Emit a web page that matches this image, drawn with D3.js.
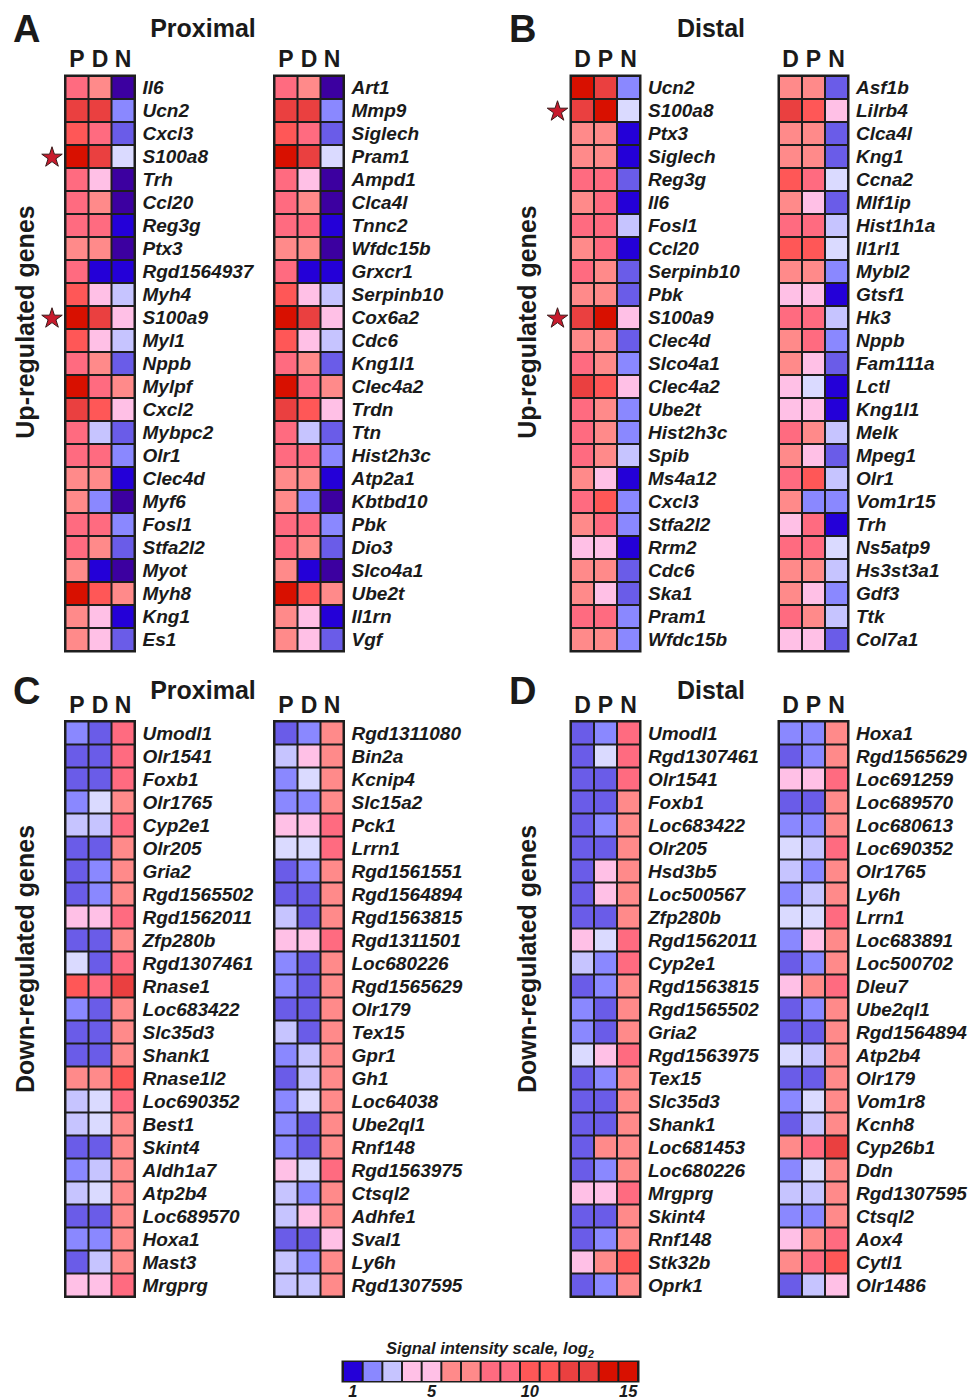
<!DOCTYPE html>
<html>
<head>
<meta charset="utf-8">
<script src="https://cdn.jsdelivr.net/npm/d3@7"></script>
<style>
  body { margin: 0; background: #fff; }
  text { font-family: "Liberation Sans", Arial, sans-serif; fill: #1a1a1a; }
</style>
</head>
<body>
<div id="chart"></div>
<script>
// column orders
const colsProximal = ["P", "D", "N"];
const colsDistal = ["D", "P", "N"];

// up-regulated, proximal
const genesA1 = ["Il6","Ucn2","Cxcl3","S100a8","Trh","Ccl20","Reg3g","Ptx3","Rgd1564937","Myh4","S100a9","Myl1","Nppb","Mylpf","Cxcl2","Mybpc2","Olr1","Clec4d","Myf6","Fosl1","Stfa2l2","Myot","Myh8","Kng1","Es1"];
const valuesA1 = [[9,7,0.5],[13,13,2.5],[11,9,1.7],[15,13,3.7],[9,5,0.5],[9,7,0.5],[9,9,1],[7,7,0.5],[9,1,1],[11,5,3.2],[15,13,5],[11,5,3.2],[9,7,1.7],[15,9,7],[13,11,5],[9,3.2,1.7],[9,9,2.5],[7,7,1],[7,2.5,0.5],[9,9,2.5],[9,7,1.7],[7,1,0.5],[15,11,7],[7,5,1],[7,5,1.7]];
const genesA2 = ["Art1","Mmp9","Siglech","Pram1","Ampd1","Clca4l","Tnnc2","Wfdc15b","Grxcr1","Serpinb10","Cox6a2","Cdc6","Kng1l1","Clec4a2","Trdn","Ttn","Hist2h3c","Atp2a1","Kbtbd10","Pbk","Dio3","Slco4a1","Ube2t","Il1rn","Vgf"];
const valuesA2 = [[9,7,0.5],[13,13,2.5],[11,9,1.7],[15,13,3.7],[9,5,0.5],[9,7,0.5],[9,9,1],[7,7,0.5],[9,1,1],[11,5,3.2],[15,13,5],[11,5,3.2],[9,7,1.7],[15,9,7],[13,11,5],[9,3.2,1.7],[9,9,2.5],[7,7,1],[7,2.5,0.5],[9,9,2.5],[9,7,1.7],[7,1,0.5],[15,11,7],[7,5,1],[7,5,1.7]];

// up-regulated, distal
const genesB1 = ["Ucn2","S100a8","Ptx3","Siglech","Reg3g","Il6","Fosl1","Ccl20","Serpinb10","Pbk","S100a9","Clec4d","Slco4a1","Clec4a2","Ube2t","Hist2h3c","Spib","Ms4a12","Cxcl3","Stfa2l2","Rrm2","Cdc6","Ska1","Pram1","Wfdc15b"];
const valuesB1 = [[15,13,2.5],[13,15,3.7],[7,7,1],[7,7,1],[9,9,1.7],[7,9,1],[9,9,3.2],[7,9,1],[9,7,1.7],[7,7,1.7],[13,15,5],[7,7,1.7],[9,7,2.5],[13,11,5],[9,7,2.5],[9,7,2.5],[9,7,3.2],[7,5,1],[9,11,2.5],[7,9,2.5],[5,5,1],[7,7,1.7],[7,5,1.7],[9,9,2.5],[7,7,2.5]];
const genesB2 = ["Asf1b","Lilrb4","Clca4l","Kng1","Ccna2","Mlf1ip","Hist1h1a","Il1rl1","Mybl2","Gtsf1","Hk3","Nppb","Fam111a","Lctl","Kng1l1","Melk","Mpeg1","Olr1","Vom1r15","Trh","Ns5atp9","Hs3st3a1","Gdf3","Ttk","Col7a1"];
const valuesB2 = [[7,7,1.7],[13,11,5],[7,7,1.7],[7,7,1.7],[11,9,3.7],[7,5,1.7],[9,9,3.2],[11,11,3.7],[7,7,2.5],[5,5,1],[9,9,3.2],[7,9,2.5],[7,5,1.7],[5,3.7,1],[5,5,1],[9,7,3.2],[7,5,1.7],[9,11,3.2],[7,2.5,2.5],[5,9,1],[9,9,3.7],[7,7,3.2],[7,5,2.5],[9,7,3.2],[5,5,1.7]];

// down-regulated, proximal
const genesC1 = ["Umodl1","Olr1541","Foxb1","Olr1765","Cyp2e1","Olr205","Gria2","Rgd1565502","Rgd1562011","Zfp280b","Rgd1307461","Rnase1","Loc683422","Slc35d3","Shank1","Rnase1l2","Loc690352","Best1","Skint4","Aldh1a7","Atp2b4","Loc689570","Hoxa1","Mast3","Mrgprg"];
const valuesC1 = [[2.5,1.7,9],[1.7,1.7,9],[1.7,1.7,9],[2.5,3.7,7],[3.2,3.2,9],[1.7,1.7,7],[1.7,2.5,7],[1.7,2.5,7],[5,5,9],[1.7,1.7,7],[3.7,1.7,9],[11,9,13],[2.5,1.7,7],[1.7,1.7,7],[1.7,1.7,7],[7,7,11],[3.2,3.7,9],[3.2,3.7,7],[1.7,1.7,7],[2.5,3.2,7],[3.2,3.7,7],[1.7,1.7,7],[2.5,2.5,7],[1.7,3.2,7],[5,5,9]];
const genesC2 = ["Rgd1311080","Bin2a","Kcnip4","Slc15a2","Pck1","Lrrn1","Rgd1561551","Rgd1564894","Rgd1563815","Rgd1311501","Loc680226","Rgd1565629","Olr179","Tex15","Gpr1","Gh1","Loc64038","Ube2ql1","Rnf148","Rgd1563975","Ctsql2","Adhfe1","Sval1","Ly6h","Rgd1307595"];
const valuesC2 = [[1.7,2.5,7],[3.2,5,7],[2.5,3.7,7],[2.5,2.5,7],[5,5,9],[3.7,3.7,9],[1.7,2.5,7],[1.7,1.7,7],[3.2,1.7,7],[5,5,9],[2.5,1.7,7],[2.5,1.7,7],[1.7,1.7,7],[3.2,1.7,7],[2.5,3.2,7],[1.7,3.2,7],[2.5,3.7,7],[2.5,1.7,7],[2.5,1.7,7],[5,3.7,9],[3.2,2.5,7],[3.2,5,7],[1.7,1.7,5],[3.2,2.5,7],[3.2,3.2,7]];

// down-regulated, distal
const genesD1 = ["Umodl1","Rgd1307461","Olr1541","Foxb1","Loc683422","Olr205","Hsd3b5","Loc500567","Zfp280b","Rgd1562011","Cyp2e1","Rgd1563815","Rgd1565502","Gria2","Rgd1563975","Tex15","Slc35d3","Shank1","Loc681453","Loc680226","Mrgprg","Skint4","Rnf148","Stk32b","Oprk1"];
const valuesD1 = [[1.7,2.5,9],[1.7,3.7,9],[1.7,1.7,9],[1.7,1.7,7],[1.7,2.5,7],[1.7,1.7,7],[1.7,5,7],[1.7,5,7],[1.7,1.7,7],[5,3.7,9],[3.2,2.5,9],[1.7,2.5,7],[2.5,1.7,7],[2.5,1.7,7],[3.7,5,9],[1.7,2.5,7],[1.7,1.7,7],[1.7,1.7,7],[1.7,7,7],[1.7,2.5,7],[5,5,9],[1.7,1.7,7],[1.7,2.5,7],[5,7,11],[1.7,2.5,7]];
const genesD2 = ["Hoxa1","Rgd1565629","Loc691259","Loc689570","Loc680613","Loc690352","Olr1765","Ly6h","Lrrn1","Loc683891","Loc500702","Dleu7","Ube2ql1","Rgd1564894","Atp2b4","Olr179","Vom1r8","Kcnh8","Cyp26b1","Ddn","Rgd1307595","Ctsql2","Aox4","Cytl1","Olr1486"];
const valuesD2 = [[2.5,2.5,7],[1.7,2.5,7],[5,5,9],[1.7,1.7,7],[2.5,2.5,7],[3.7,3.2,9],[3.2,2.5,7],[2.5,3.2,7],[3.7,3.7,9],[2.5,5,7],[1.7,2.5,7],[5,7,9],[1.7,2.5,7],[1.7,1.7,7],[3.7,3.2,7],[1.7,1.7,7],[2.5,3.7,7],[1.7,3.2,7],[7,9,13],[2.5,3.7,7],[3.2,3.2,7],[2.5,2.5,7],[5,7,9],[7,9,11],[1.7,3.2,5]];

// starred genes
const starred = ["S100a8", "S100a9"];

// legend
const legendValues = [1,2,3,4,5,6,7,8,9,10,11,12,13,14,15];
const legendTicks = [1, 5, 10, 15];

const color = d3.scaleThreshold()
  .domain([0.8, 1.4, 2, 3, 3.5, 4, 6, 8, 10, 12, 14])
  .range(["#3c00a0","#2400d8","#6a5ce8","#8a88ff","#c6c4ff","#dadaff","#ffc0e6","#ff8a8a","#ff6b80","#ff5757","#ea4040","#d81000"]);

const W = 969, H = 1400;
const svg = d3.select("#chart").append("svg").attr("width", W).attr("height", H);

const cell = 23;

function drawHeatmap(genes, values, cols, x0, y0, stars) {
  const g = svg.append("g");
  const x = d3.scaleBand().domain(cols).range([x0, x0 + cols.length * cell]);
  const y = d3.scaleBand().domain(d3.range(genes.length)).range([y0, y0 + genes.length * cell]);

  g.append("rect")
    .attr("x", x0 - 1.5).attr("y", y0 - 1.5)
    .attr("width", cols.length * cell + 3).attr("height", genes.length * cell + 3)
    .attr("fill", "#1e1e1e");

  const rows = g.selectAll(".row").data(values).enter().append("g").attr("class", "row");
  rows.selectAll("rect")
    .data((d, i) => d.map((v, j) => ({ v: v, col: cols[j], row: i })))
    .enter()
    .append("rect")
    .attr("x", d => x(d.col) + 1)
    .attr("y", d => y(d.row) + 1)
    .attr("width", x.bandwidth() - 2)
    .attr("height", y.bandwidth() - 2)
    .attr("fill", d => color(d.v));

  g.selectAll(".hdr").data(cols).enter().append("text")
    .attr("x", d => x(d) + x.bandwidth() / 2)
    .attr("y", y0 - 9)
    .attr("text-anchor", "middle")
    .attr("font-size", "23px")
    .attr("font-weight", "bold")
    .text(d => d);

  g.selectAll(".lbl").data(genes).enter().append("text")
    .attr("x", x0 + cols.length * cell + 8)
    .attr("y", (d, i) => y(i) + y.bandwidth() / 2)
    .attr("dy", "0.36em")
    .attr("font-size", "19px")
    .attr("font-weight", "bold")
    .attr("font-style", "italic")
    .text(d => d);

  if (stars) {
    g.selectAll(".star").data(genes.filter(d => starred.includes(d))).enter().append("path")
      .attr("d", d3.symbol().type(d3.symbolStar).size(130))
      .attr("transform", d => `translate(${x0 - 13.5},${y(genes.indexOf(d)) + y.bandwidth() / 2 + 1})`)
      .attr("fill", "#c81a2c")
      .attr("stroke", "#3a1a1a")
      .attr("stroke-width", 1);
  }
}

function panelText(letter, title, ylabel, lx, tx, top, ycenter, ylx) {
  svg.append("text").attr("x", lx).attr("y", top + 30)
    .attr("font-size", "38px").attr("font-weight", "bold").text(letter);
  svg.append("text").attr("x", tx).attr("y", top + 25)
    .attr("text-anchor", "middle").attr("font-size", "25px").attr("font-weight", "bold").text(title);
  svg.append("text")
    .attr("transform", `translate(${ylx},${ycenter}) rotate(-90)`)
    .attr("text-anchor", "middle").attr("font-size", "25px").attr("font-weight", "bold").text(ylabel);
}

const xs = [65.5, 274.5, 571, 779];
const topY = 76, botY = 721.5;

drawHeatmap(genesA1, valuesA1, colsProximal, xs[0], topY, true);
drawHeatmap(genesA2, valuesA2, colsProximal, xs[1], topY, false);
drawHeatmap(genesB1, valuesB1, colsDistal, xs[2], topY, true);
drawHeatmap(genesB2, valuesB2, colsDistal, xs[3], topY, false);
drawHeatmap(genesC1, valuesC1, colsProximal, xs[0], botY, false);
drawHeatmap(genesC2, valuesC2, colsProximal, xs[1], botY, false);
drawHeatmap(genesD1, valuesD1, colsDistal, xs[2], botY, false);
drawHeatmap(genesD2, valuesD2, colsDistal, xs[3], botY, false);

panelText("A", "Proximal", "Up-regulated genes", 13, 203, 12, 322, 34);
panelText("B", "Distal", "Up-regulated genes", 509, 711, 12, 322, 536);
panelText("C", "Proximal", "Down-regulated genes", 13, 203, 674, 959, 34);
panelText("D", "Distal", "Down-regulated genes", 509, 711, 674, 959, 536);

// legend
const lx = d3.scaleBand().domain(legendValues).range([343, 638]);
const lg = svg.append("g");
lg.append("rect").attr("x", 341.5).attr("y", 1360.5).attr("width", 298).attr("height", 22).attr("fill", "#1e1e1e");
lg.selectAll("rect.sw").data(legendValues).enter().append("rect")
  .attr("class", "sw")
  .attr("x", d => lx(d) + 1).attr("y", 1362)
  .attr("width", lx.bandwidth() - 2).attr("height", 19)
  .attr("fill", d => color(d));
lg.selectAll("text.tk").data(legendTicks).enter().append("text")
  .attr("x", d => lx(d) + lx.bandwidth() / 2).attr("y", 1397)
  .attr("text-anchor", "middle").attr("font-size", "16.5px")
  .attr("font-weight", "bold").attr("font-style", "italic").text(d => d);
const lt = lg.append("text").attr("x", 490).attr("y", 1354)
  .attr("text-anchor", "middle").attr("font-size", "16.5px")
  .attr("font-weight", "bold").attr("font-style", "italic");
lt.append("tspan").text("Signal intensity scale, log");
lt.append("tspan").attr("font-size", "11px").attr("dy", "4").text("2");
</script>
</body>
</html>
